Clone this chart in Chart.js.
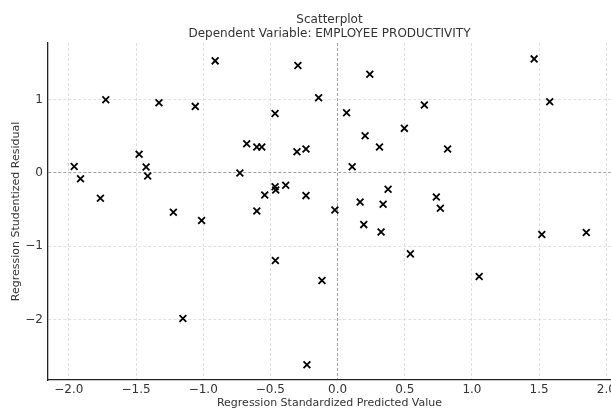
<!DOCTYPE html>
<html>
<head>
<meta charset="utf-8">
<script src="https://cdn.jsdelivr.net/npm/chart.js@4/dist/chart.umd.min.js"></script>
<style>
  html, body { margin: 0; padding: 0; background: #fff; overflow: hidden; }
  #wrap { width: 611px; height: 410px; position: relative; }
</style>
</head>
<body>
<div id="wrap"><canvas id="c" width="611" height="410"></canvas></div>
<script>
// ---- Data ----
const predictedValues = [
  -1.960, -1.913, -1.725, -1.765, -1.477, -1.425, -1.413, -1.329, -1.222, -1.059,
  -1.012, -0.911, -0.727, -0.295,  0.240, -0.141, -0.465,  0.067,  0.205,  0.312,
  -0.676, -0.601, -0.564, -0.302, -0.235,  0.109, -0.465, -0.460, -0.386, -0.542,
  -0.235,  0.376,  0.168,  0.339, -0.601, -0.020,  0.195,  0.324, -0.463, -0.116,
  -0.228, -1.151,  0.646,  0.497,  0.819,  0.735,  0.765,  1.463,  1.579,  0.542,
   1.054,  1.520,  1.851
];
const studentizedResiduals = [
   0.090, -0.078,  1.000, -0.345,  0.255,  0.082, -0.041,  0.960, -0.536,  0.910,
  -0.650,  1.532,  0.000,  1.469,  1.350,  1.027,  0.814,  0.823,  0.509,  0.355,
   0.400,  0.355,  0.355,  0.291,  0.327,  0.086, -0.187, -0.232, -0.168, -0.300,
  -0.309, -0.223, -0.396, -0.428, -0.518, -0.505, -0.705, -0.805, -1.196, -1.469,
  -2.619, -1.988,  0.928,  0.610,  0.327, -0.327, -0.482,  1.559,  0.973, -1.105,
  -1.414, -0.841, -0.814
];
const xTickValues = [-2.0, -1.5, -1.0, -0.5, 0.0, 0.5, 1.0, 1.5, 2.0];
const yTickValues = [-2, -1, 0, 1];
const titleLines = ['Scatterplot', 'Dependent Variable: EMPLOYEE PRODUCTIVITY'];
const xAxisTitle = 'Regression Standardized Predicted Value';
const yAxisTitle = 'Regression Studentized Residual';

const points = predictedValues.map((x, i) => ({ x: x, y: studentizedResiduals[i] }));
const FONT = "'DejaVu Sans', sans-serif";
const TEXT = '#333333';
const fmtMinus = s => s.replace('-', '\u2212');

const titlePlugin = {
  id: 'twoLineTitle',
  afterDraw(chart) {
    const { ctx, chartArea } = chart;
    const cx = (chartArea.left + chartArea.right) / 2;
    ctx.save();
    ctx.fillStyle = TEXT;
    ctx.font = '12px ' + FONT;
    ctx.textAlign = 'center';
    ctx.textBaseline = 'middle';
    ctx.fillText(titleLines[0], cx, 20);
    ctx.fillText(titleLines[1], cx, 34);
    ctx.restore();
  }
};

new Chart(document.getElementById('c'), {
  type: 'scatter',
  data: {
    datasets: [{
      data: points,
      pointStyle: 'crossRot',
      pointRadius: 4.8,
      pointHoverRadius: 4.8,
      pointBorderWidth: 1.8,
      borderColor: '#000000',
      backgroundColor: '#000000'
    }]
  },
  options: {
    responsive: false,
    animation: false,
    devicePixelRatio: 1,
    layout: { autoPadding: false, padding: { top: 43, left: 0, right: 0, bottom: 0 } },
    plugins: {
      legend: { display: false },
      title: { display: false },
      tooltip: { enabled: false }
    },
    scales: {
      x: {
        type: 'linear',
        min: -2.155,
        max: 2.035,
        afterBuildTicks: s => { s.ticks = xTickValues.map(v => ({ value: v })); },
        afterFit: s => { s.height = 30; s.paddingLeft = 0; s.paddingRight = 0; },
        ticks: {
          autoSkip: false,
          maxRotation: 0,
          padding: 3,
          color: TEXT,
          font: { family: FONT, size: 12 },
          callback: v => fmtMinus(Number(v).toFixed(1))
        },
        grid: {
          drawTicks: false,
          lineWidth: 0.8,
          color: c => (c.tick && c.tick.value === 0) ? '#8a8a8a' : '#d8d8d8'
        },
        border: { display: true, color: '#222222', width: 1.3, dash: [3, 2] },
        title: {
          display: true,
          text: xAxisTitle,
          color: TEXT,
          font: { family: FONT, size: 11 },
          padding: 0
        }
      },
      y: {
        type: 'linear',
        min: -2.828,
        max: 1.776,
        afterBuildTicks: s => { s.ticks = yTickValues.map(v => ({ value: v })); },
        afterFit: s => { s.width = 48; s.paddingTop = 0; s.paddingBottom = 0; },
        ticks: {
          autoSkip: false,
          padding: 5,
          color: TEXT,
          font: { family: FONT, size: 12 },
          callback: v => fmtMinus(String(v))
        },
        grid: {
          drawTicks: false,
          lineWidth: 0.8,
          color: c => (c.tick && c.tick.value === 0) ? '#8a8a8a' : '#d8d8d8'
        },
        border: { display: true, color: '#222222', width: 1.3, dash: [3, 2] },
        title: {
          display: true,
          text: yAxisTitle,
          color: TEXT,
          font: { family: FONT, size: 11 },
          padding: { top: 10, bottom: 0 }
        }
      }
    }
  },
  plugins: [titlePlugin]
});
</script>
</body>
</html>
